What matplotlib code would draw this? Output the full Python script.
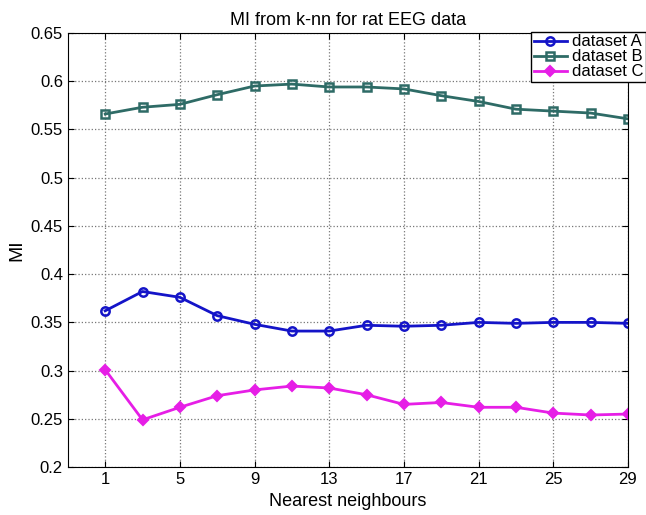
import matplotlib
matplotlib.use("Agg")
import matplotlib.pyplot as plt

k = [1, 3, 5, 7, 9, 11, 13, 15, 17, 19, 21, 23, 25, 27, 29]
mi_a = [0.362, 0.382, 0.376, 0.357, 0.348, 0.341, 0.341, 0.347, 0.346, 0.347, 0.350, 0.349, 0.350, 0.350, 0.349]
mi_b = [0.566, 0.573, 0.576, 0.586, 0.595, 0.597, 0.594, 0.594, 0.592, 0.585, 0.579, 0.571, 0.569, 0.567, 0.561]
mi_c = [0.301, 0.249, 0.262, 0.274, 0.280, 0.284, 0.282, 0.275, 0.265, 0.267, 0.262, 0.262, 0.256, 0.254, 0.255]
xticks = [1, 5, 9, 13, 17, 21, 25, 29]
yticks = [0.2, 0.25, 0.3, 0.35, 0.4, 0.45, 0.5, 0.55, 0.6, 0.65]
ytick_labels = ["0.2", "0.25", "0.3", "0.35", "0.4", "0.45", "0.5", "0.55", "0.6", "0.65"]

plt.rcParams['font.family'] = ['Liberation Sans', 'DejaVu Sans']
fig = plt.figure(figsize=(6.46, 5.15), dpi=100)
ax = fig.add_axes([0.105, 0.093, 0.867, 0.843])

ax.plot(k, mi_a, color='#1414c8', lw=2, marker='o', ms=6, mfc='none', mew=1.8, label='dataset A')
ax.plot(k, mi_b, color='#2e6b66', lw=2, marker='s', ms=6, mfc='none', mew=1.8, label='dataset B')
ax.plot(k, mi_c, color='#e61ee6', lw=2, marker='D', ms=5, mfc='#e61ee6', mew=1.5, label='dataset C')

ax.set_xlim(-1, 29)
ax.set_ylim(0.2, 0.65)
ax.set_xticks(xticks)
ax.set_yticks(yticks)
ax.set_yticklabels(ytick_labels)
ax.tick_params(direction='in', labelsize=12, length=4, top=True, right=True)
ax.grid(True, linestyle=':', color='#777777', lw=0.9)
ax.set_xlabel('Nearest neighbours', fontsize=13)
ax.set_ylabel('MI', fontsize=14)
ax.set_title('MI from k-nn for rat EEG data', fontsize=13)

leg = fig.legend(loc='upper right', bbox_to_anchor=(1.0, 0.938), fontsize=12,
                 frameon=True, fancybox=False, edgecolor='black', framealpha=1,
                 borderpad=0.15, labelspacing=0.0, handlelength=2.0, handletextpad=0.3,
                 borderaxespad=0)
leg.get_frame().set_linewidth(1.0)

fig.savefig('out.png', dpi=100)
